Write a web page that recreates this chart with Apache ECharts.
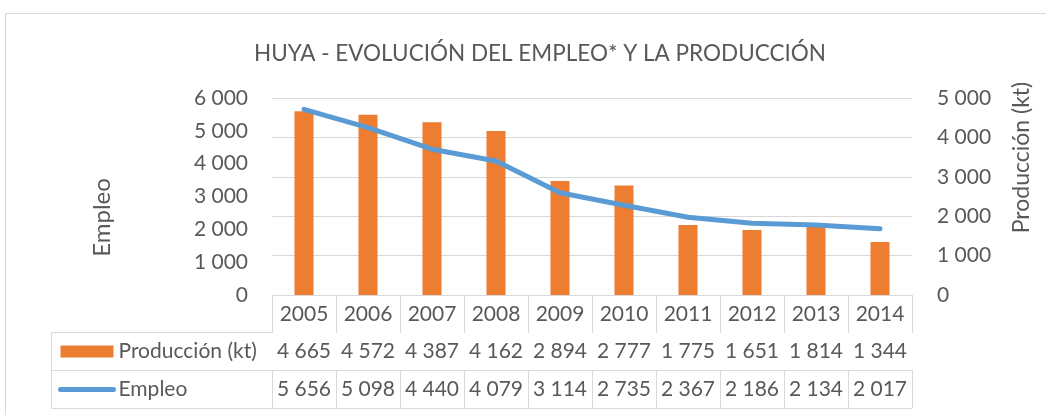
<!DOCTYPE html>
<html>
<head>
    <meta charset="UTF-8">
    <title>Huya - empleo y producción</title>
    <script src="https://cdn.jsdelivr.net/npm/echarts@6.0.0/dist/echarts.min.js"></script>
    <style>
        html, body { margin: 0; padding: 0; background: #fff; }
        #chart { width: 1046px; height: 415px; }
    </style>
</head>
<body>
    <div id="chart"></div>
    <script>
        var years = ['2005', '2006', '2007', '2008', '2009', '2010', '2011', '2012', '2013', '2014'];
        var produccion = [4665, 4572, 4387, 4162, 2894, 2777, 1775, 1651, 1814, 1344];
        var empleo = [5656, 5098, 4440, 4079, 3114, 2735, 2367, 2186, 2134, 2017];

        var txt = '#595959';
        var lineCol = '#d9d9d9';
        var font = 'Lato';

        // 4665 -> "4 665"
        function fmt(v) {
            return String(v).replace(/\B(?=(\d{3})+(?!\d))/g, ' ');
        }

        function tableAxis(offset, values, tickLen) {
            return {
                type: 'category',
                data: years,
                position: 'bottom',
                offset: offset,
                axisLine: { show: true, lineStyle: { color: lineCol, width: 1 } },
                axisTick: { show: tickLen > 0, interval: 0, length: tickLen, lineStyle: { color: lineCol } },
                axisLabel: {
                    show: !!values,
                    interval: 0,
                    hideOverlap: false,
                    margin: 9,
                    fontSize: 21,
                    fontFamily: font,
                    color: txt,
                    formatter: function (v, i) { return values ? fmt(values[i]) : v; }
                },
                splitLine: { show: false }
            };
        }

        var chart = echarts.init(document.getElementById('chart'));
        chart.setOption({
            animation: false,
            textStyle: { fontFamily: font },
            title: {
                text: 'HUYA - EVOLUCIÓN DEL EMPLEO* Y LA PRODUCCIÓN',
                left: 535,
                textAlign: 'center',
                top: 37,
                textStyle: { fontSize: 22.5, fontWeight: 'normal', color: txt, fontFamily: font }
            },
            legend: {
                orient: 'vertical',
                left: 58,
                top: 341,
                padding: 0,
                itemWidth: 53,
                itemHeight: 12,
                itemGap: 17,
                textStyle: { fontSize: 21, color: txt, fontFamily: font },
                data: [
                    { name: 'Producción (kt)', icon: 'rect' },
                    { name: 'Empleo', itemStyle: { opacity: 0 }, lineStyle: { width: 5, cap: 'round' } }
                ]
            },
            grid: { left: 272, right: 134, top: 98, bottom: 120 },
            xAxis: [
                {
                    type: 'category',
                    data: years,
                    position: 'bottom',
                    axisLine: { show: true, lineStyle: { color: lineCol } },
                    axisTick: { show: true, interval: 0, length: 37, lineStyle: { color: lineCol } },
                    axisLabel: { interval: 0, margin: 9, fontSize: 21, fontFamily: font, color: txt }
                },
                tableAxis(37, produccion, 38),
                tableAxis(75, empleo, 38),
                tableAxis(113, null, 0)
            ],
            yAxis: [
                {
                    type: 'value',
                    min: 0,
                    max: 6000,
                    interval: 1000,
                    name: 'Empleo',
                    nameLocation: 'middle',
                    nameGap: 158,
                    nameTextStyle: { fontSize: 24, color: txt, fontFamily: font, padding: [0, 42, 0, 0] },
                    axisLine: { show: false },
                    axisTick: { show: false },
                    splitLine: { show: false },
                    axisLabel: { margin: 24, fontSize: 21, color: txt, fontFamily: font, formatter: fmt }
                },
                {
                    type: 'value',
                    min: 0,
                    max: 5000,
                    interval: 1000,
                    position: 'right',
                    name: 'Producción (kt)',
                    nameLocation: 'middle',
                    nameGap: 98,
                    nameTextStyle: { fontSize: 23, color: txt, fontFamily: font, padding: [0, 0, 0, 78] },
                    axisLine: { show: false },
                    axisTick: { show: false },
                    splitLine: { show: true, lineStyle: { color: lineCol, width: 1 } },
                    axisLabel: { margin: 25, fontSize: 21, color: txt, fontFamily: font, formatter: fmt }
                }
            ],
            series: [
                {
                    name: 'Producción (kt)',
                    type: 'bar',
                    yAxisIndex: 1,
                    barWidth: 19,
                    itemStyle: { color: '#ed7d31' },
                    data: produccion
                },
                {
                    name: 'Empleo',
                    type: 'line',
                    yAxisIndex: 0,
                    symbol: 'none',
                    lineStyle: { color: '#5b9bd5', width: 5, cap: 'round', join: 'round' },
                    itemStyle: { color: '#5b9bd5' },
                    data: empleo
                }
            ],
            graphic: [
                // marco exterior del gráfico
                { type: 'rect', silent: true, shape: { x: 5.5, y: 13.5, width: 1100, height: 500 },
                  style: { fill: 'none', stroke: lineCol, lineWidth: 1 } },
                // celdas de la columna de leyenda de la tabla
                { type: 'line', silent: true, shape: { x1: 51.5, y1: 332.5, x2: 272, y2: 332.5 }, style: { stroke: lineCol } },
                { type: 'line', silent: true, shape: { x1: 51.5, y1: 370.5, x2: 272, y2: 370.5 }, style: { stroke: lineCol } },
                { type: 'line', silent: true, shape: { x1: 51.5, y1: 408.5, x2: 272, y2: 408.5 }, style: { stroke: lineCol } },
                { type: 'line', silent: true, shape: { x1: 51.5, y1: 332.5, x2: 51.5, y2: 408.5 }, style: { stroke: lineCol } }
            ]
        });
    </script>
</body>
</html>
